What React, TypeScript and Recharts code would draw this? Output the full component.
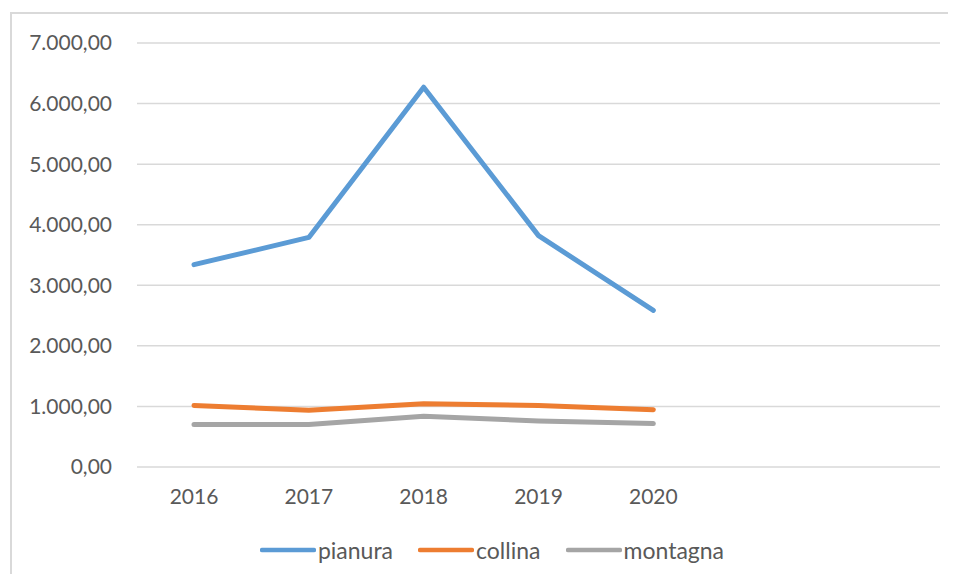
import React from 'react';
import { LineChart, Line, XAxis, YAxis, CartesianGrid, Legend } from 'recharts';

const categories = ['2016', '2017', '2018', '2019', '2020', '', ''];
const pianura = [3340, 3790, 6270, 3820, 2585, null, null];
const collina = [1016, 935, 1043, 1016, 946, null, null];
const montagna = [701, 701, 837, 761, 717, null, null];
const yTicks = [0, 1000, 2000, 3000, 4000, 5000, 6000, 7000];

const seriesInfo = [
  { key: 'pianura', name: 'pianura', color: '#5B9BD5' },
  { key: 'collina', name: 'collina', color: '#ED7D31' },
  { key: 'montagna', name: 'montagna', color: '#A5A5A5' },
];

const data = categories.map((c, i) => ({
  year: c,
  pianura: pianura[i],
  collina: collina[i],
  montagna: montagna[i],
}));

const fmt = (v: number) => {
  const int = Math.floor(v).toString().replace(/\B(?=(\d{3})+(?!\d))/g, '.');
  return int + ',00';
};

const FONT = 'Lato, "Open Sans", sans-serif';
const TEXT = '#595959';

const renderLegend = () => (
  <div
    style={{
      height: 30,
      display: 'flex',
      justifyContent: 'center',
      alignItems: 'center',
      paddingLeft: 44,
      fontFamily: FONT,
      fontSize: 23,
      color: TEXT,
    }}
  >
    {seriesInfo.map((s, i) => (
      <div key={s.key} style={{ display: 'flex', alignItems: 'center', marginLeft: i === 0 ? 0 : 25 }}>
        <svg width={56} height={6} style={{ display: 'block' }}>
          <line x1={2} y1={3} x2={54} y2={3} stroke={s.color} strokeWidth={4.5} strokeLinecap="round" />
        </svg>
        <span style={{ marginLeft: 2 }}>{s.name}</span>
      </div>
    ))}
  </div>
);

export default function App() {
  return (
    <div style={{ position: 'relative', margin: -8, width: 956, height: 582, background: '#fff', overflow: 'hidden' }}>
      <div
        style={{
          position: 'absolute',
          left: 10,
          top: 12,
          width: 960,
          height: 600,
          borderLeft: '2px solid #d9d9d9',
          borderTop: '2px solid #d9d9d9',
        }}
      />
      <div style={{ position: 'absolute', left: 0, top: 0 }}>
        <LineChart width={956} height={582} data={data} margin={{ top: 43, right: 16, left: 0, bottom: 35 }}>
          <CartesianGrid vertical={false} stroke="#d9d9d9" strokeWidth={1.5} />
          <XAxis
            dataKey="year"
            padding={{ left: 57, right: 57 }}
            axisLine={false}
            tickLine={false}
            tickSize={0}
            tickMargin={22}
            height={50}
            interval={0}
            tick={{ fill: TEXT, fontSize: 21, fontFamily: FONT }}
          />
          <YAxis
            width={137}
            domain={[0, 7000]}
            ticks={yTicks}
            axisLine={false}
            tickLine={false}
            tickSize={0}
            tickMargin={25}
            tickFormatter={fmt}
            tick={{ fill: TEXT, fontSize: 21, fontFamily: FONT }}
          />
          <Legend verticalAlign="bottom" content={renderLegend} wrapperStyle={{ bottom: 17 }} />
          {seriesInfo.map((s) => (
            <Line
              key={s.key}
              type="linear"
              dataKey={s.key}
              name={s.name}
              stroke={s.color}
              strokeWidth={5}
              strokeLinecap="round"
              strokeLinejoin="round"
              dot={false}
              activeDot={false}
              isAnimationActive={false}
            />
          ))}
        </LineChart>
      </div>
    </div>
  );
}
